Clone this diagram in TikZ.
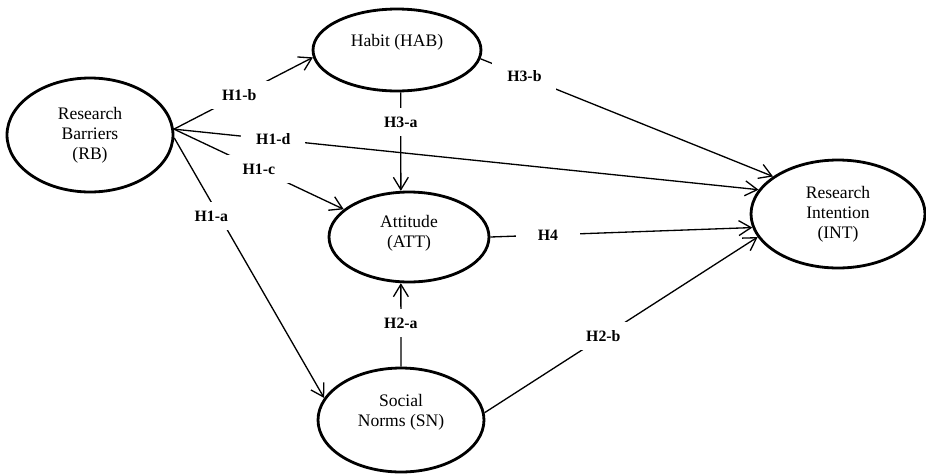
\documentclass[tikz,border=0pt]{standalone}
\usepackage{fontspec}
\setmainfont{Liberation Serif}
\usetikzlibrary{arrows.meta,shapes.geometric}

\begin{document}
\begin{tikzpicture}[x=0.02cm,y=-0.02cm,
       konstrukt/.style={ellipse,draw,line width=1.6pt,inner sep=0pt,align=center,
              font=\fontsize{10}{11.5}\selectfont},
       veza/.style={line width=0.75pt,-{Straight Barb[length=7pt,width=8.5pt]}},
       hip/.style={fill=white,inner sep=0pt,minimum width=1.28cm,minimum height=0.56cm,
              font=\bfseries\fontsize{9}{10}\selectfont}]
       \useasboundingbox (0,0) rectangle (926,474);

       %konstrukti
       \node[konstrukt,minimum width=3.32cm,minimum height=2.28cm] (RB) at (90,135) {Research\\Barriers\\(RB)};
       \node[konstrukt,minimum width=3.36cm,minimum height=1.64cm,text depth=11pt] (HAB) at (397,50) {Habit (HAB)};
       \node[konstrukt,minimum width=3.2cm,minimum height=1.8cm,text depth=6.5pt] (ATT) at (409,237) {Attitude\\(ATT)};
       \node[konstrukt,minimum width=3.32cm,minimum height=2.08cm,text depth=11pt] (SN) at (401,420) {Social\\Norms (SN)};
       \node[konstrukt,minimum width=3.48cm,minimum height=2.16cm] (INT) at (838,214) {Research\\Intention\\(INT)};

       %hipoteze iz RB
       \draw[veza] (RB.4) -- node[hip,pos=0.47] (h1b) {H1-b} (HAB.185);
       \draw[veza] (RB.4) -- node[hip,pos=0.17] (h1d) {H1-d} (INT.163);
       \draw[veza] (RB.4) -- node[hip,pos=0.5] (h1c) {H1-c} (ATT.157);
       \draw[veza] (RB.-2) -- node[hip,pos=0.3,xshift=-0.16cm] (h1a) {H1-a} (SN.164);

       %ostale hipoteze
       \draw[veza] (HAB.-85) -- node[hip,pos=0.3] (h3a) {H3-a} (ATT.100);
       \draw[veza] (HAB.-6) -- node[hip,pos=0.15] (h3b) {H3-b} (INT.150);
       \draw[veza] (SN.north) -- node[hip,pos=0.52] (h2a) {H2-a} (ATT.-100);
       \draw[veza] (SN.5) -- node[hip,pos=0.435] (h2b) {H2-b} (INT.196);
       \draw[veza] (ATT.east) -- node[hip,pos=0.22] (h4) {H4} (INT.189);

\end{tikzpicture}
\end{document}
